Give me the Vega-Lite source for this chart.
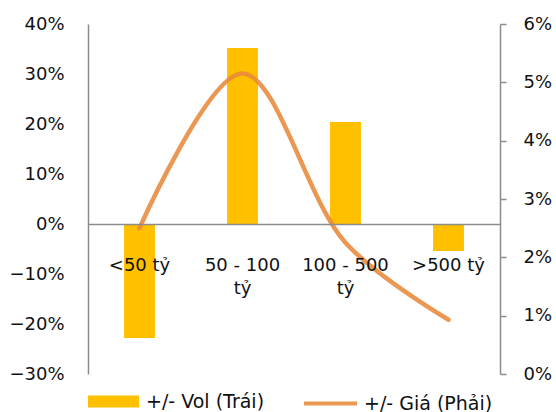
{
  "$schema": "https://vega.github.io/schema/vega-lite/v6.json",
  "width": 412,
  "height": 350,
  "autosize": {"type": "none"},
  "padding": {"left": 88, "top": 24, "right": 56, "bottom": 38},
  "background": "white",
  "config": {
    "view": {"stroke": null},
    "font": "DejaVu Sans",
    "axis": {"labelFont": "DejaVu Sans", "labelFontSize": 18, "labelColor": "#111111", "domainColor": "#8c8c8c", "domainWidth": 1.5, "tickColor": "#8c8c8c", "tickWidth": 1.5, "grid": false, "title": null},
    "legend": {"labelFont": "DejaVu Sans", "labelFontSize": 19, "labelColor": "#111111", "padding": 0, "title": null, "labelLimit": 300}
  },
  "data": {
    "values": [
      {"nhom": "<50 tỷ", "vol": -0.228, "gia": 0.025},
      {"nhom": "50 - 100 tỷ", "vol": 0.352, "gia": 0.0515},
      {"nhom": "100 - 500 tỷ", "vol": 0.204, "gia": 0.0225},
      {"nhom": ">500 tỷ", "vol": -0.054, "gia": 0.0093}
    ]
  },
  "encoding": {
    "x": {
      "field": "nhom",
      "type": "nominal",
      "sort": null,
      "scale": {"paddingInner": 0.7, "paddingOuter": 0.35},
      "axis": {
        "orient": "bottom",
        "offset": -150,
        "ticks": false,
        "labelAngle": 0,
        "labelPadding": 32,
        "labelLineHeight": 23,
        "labelBaseline": "top",
        "labelExpr": "datum.label == '50 - 100 tỷ' ? ['50 - 100', 'tỷ'] : datum.label == '100 - 500 tỷ' ? ['100 - 500', 'tỷ'] : datum.label",
        "zindex": 1
      }
    }
  },
  "layer": [
    {
      "mark": {"type": "bar"},
      "encoding": {
        "y": {
          "field": "vol",
          "type": "quantitative",
          "scale": {"domain": [-0.3, 0.4], "nice": false, "zero": false},
          "axis": {"orient": "left", "format": ".0%", "values": [-0.3, -0.2, -0.1, 0, 0.1, 0.2, 0.3, 0.4], "ticks": false, "labelPadding": 24}
        },
        "color": {
          "datum": "+/- Vol (Trái)",
          "scale": {"range": ["#FFC000"]},
          "legend": {
            "orient": "none",
            "legendX": 0,
            "legendY": 352,
            "symbolType": "M-1,-0.235H1V0.235H-1Z",
            "symbolSize": 2601,
            "symbolStrokeWidth": 0,
            "labelOffset": 7
          }
        }
      }
    },
    {
      "mark": {"type": "line", "interpolate": "catmull-rom", "strokeWidth": 4.5, "opacity": 0.88, "strokeCap": "round"},
      "encoding": {
        "y": {
          "field": "gia",
          "type": "quantitative",
          "scale": {"domain": [0, 0.06], "nice": false, "zero": false},
          "axis": {"orient": "right", "format": ".0%", "values": [0, 0.01, 0.02, 0.03, 0.04, 0.05, 0.06], "ticks": true, "tickSize": 6, "labelPadding": 17}
        },
        "stroke": {
          "datum": "+/- Giá (Phải)",
          "scale": {"range": ["#E8893A"]},
          "legend": {
            "orient": "none",
            "legendX": 214,
            "legendY": 351,
            "symbolType": "stroke",
            "symbolSize": 2809,
            "symbolStrokeWidth": 4,
            "labelOffset": 5
          }
        }
      }
    }
  ],
  "resolve": {"scale": {"y": "independent"}}
}
